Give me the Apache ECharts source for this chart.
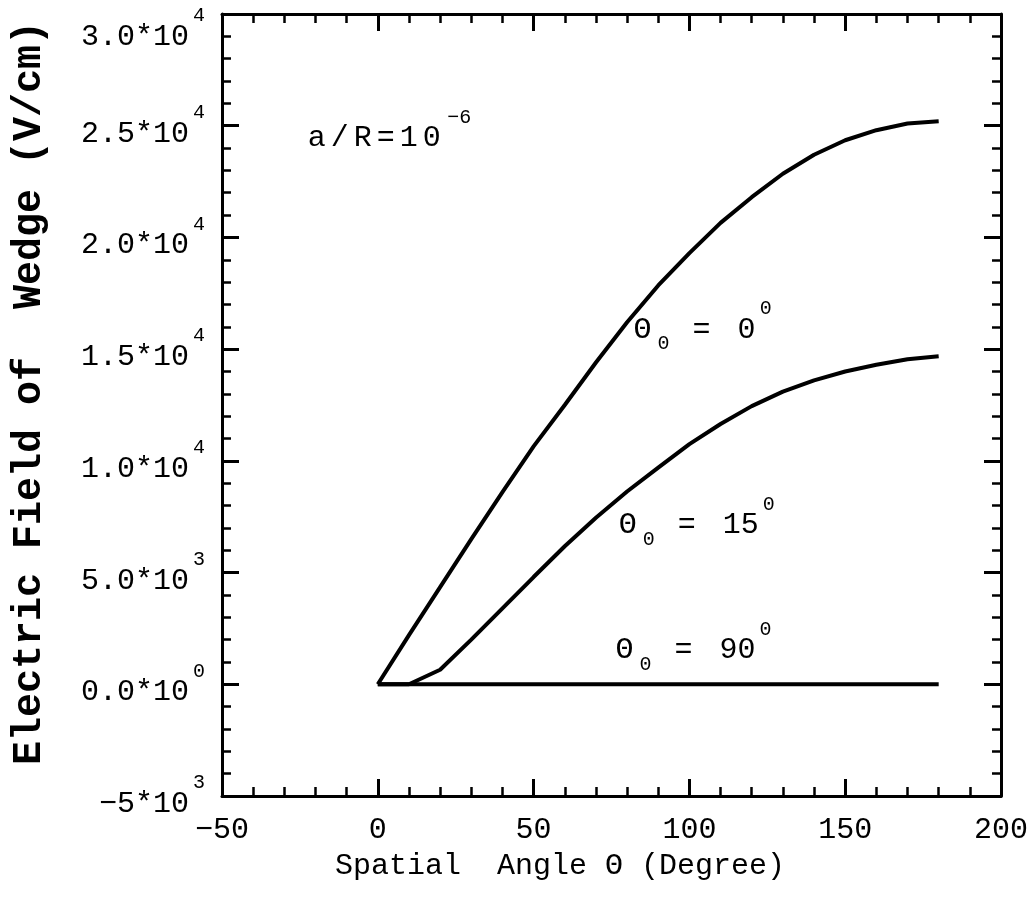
<!DOCTYPE html>
<html><head><meta charset="utf-8">
<script src="https://cdn.jsdelivr.net/npm/echarts@6/dist/echarts.min.js"></script>
<style>html,body{margin:0;padding:0;background:#fff}#c{width:1034px;height:908px}</style>
</head><body><div id="c"></div>
<script>
// ---- data ----
const angles   = [0, 10, 20, 30, 40, 50, 60, 70, 80, 90, 100, 110, 120, 130, 140, 150, 160, 170, 180];
const field0   = [0, 2200, 4350, 6500, 8600, 10650, 12500, 14400, 16200, 17850, 19300, 20650, 21800, 22850, 23700, 24350, 24800, 25100, 25200];
const field15  = [0, 0, 650, 2000, 3400, 4800, 6180, 7450, 8630, 9700, 10750, 11650, 12450, 13100, 13600, 14000, 14300, 14550, 14680];
const field90  = [0, 0, 0, 0, 0, 0, 0, 0, 0, 0, 0, 0, 0, 0, 0, 0, 0, 0, 0];
const xTickLabels = ['\u221250', '0', '50', '100', '150', '200'];
const yTickMain = ['\u22125*10', '0.0*10', '5.0*10', '1.0*10', '1.5*10', '2.0*10', '2.5*10', '3.0*10'];
const yTickExp  = ['3', '0', '3', '4', '4', '4', '4', '4'];
const curveLabels = [
  { num: '0',  at: [82.1, 15850] },
  { num: '15', at: [77.3, 7120] },
  { num: '90', at: [76.3, 1520] }
];
const ratioLabel = { chars: ['a', '/', 'R', '=', '1', '0'], exp: '\u22126', at: [-23.3, 24440] };
const xTitle = 'Spatial  Angle \u0398 (Degree)';
const yTitle = 'Electric Field of  Wedge (V/cm)';

const xMin = -50, xMax = 200, xStep = 50;
const yMin = -5000, yMax = 30000, yStep = 5000;

const FONT = '"Liberation Mono", "DejaVu Sans Mono", monospace';
const pairs = (ys) => angles.map((a, i) => [a, ys[i]]);

const richGreek = {
  t:   { fontFamily: FONT, fontSize: 30, lineHeight: 62, color: '#000' },
  th:  { fontFamily: FONT, fontSize: 30, lineHeight: 62, width: 24, color: '#000' },
  sub: { fontFamily: FONT, fontSize: 20, width: 35, verticalAlign: 'bottom', padding: [0, 0, 7, 0], color: '#000' },
  eq:  { fontFamily: FONT, fontSize: 30, lineHeight: 62, width: 45, color: '#000' },
  sup: { fontFamily: FONT, fontSize: 20, verticalAlign: 'top', padding: [0, 0, 0, 4], color: '#000' },
  c:   { fontFamily: FONT, fontSize: 30, lineHeight: 62, width: 23, align: 'center', color: '#000' }
};

function curveMark(lbl) {
  return {
    symbolSize: 0,
    itemStyle: { color: 'rgba(0,0,0,0)' },
    data: [{
      coord: lbl.at,
      label: {
        show: true, position: 'right', distance: 0,
        formatter: '{th|\u0398}{sub|0}{eq|=}{t|' + lbl.num + '}{sup|0}',
        rich: richGreek
      }
    }]
  };
}

const ratioMark = {
  coord: ratioLabel.at,
  label: {
    show: true, position: 'right', distance: 0,
    formatter: ratioLabel.chars.map(ch => '{c|' + ch + '}').join('') + '{sup|' + ratioLabel.exp + '}',
    rich: richGreek
  }
};

const axisLineStyle = { color: '#000', width: 3 };
const tickCommon = {
  axisTick: { show: true, inside: true, length: 17, lineStyle: { color: '#000', width: 3 } },
  minorTick: { show: true, splitNumber: 5, length: 9, lineStyle: { color: '#000', width: 2.5 } },
  splitLine: { show: false },
  minorSplitLine: { show: false }
};

const chart = echarts.init(document.getElementById('c'), null, { renderer: 'canvas' });
chart.setOption({
  animation: false,
  backgroundColor: '#fff',
  grid: { left: 222, right: 33, top: 14, bottom: 112, containLabel: false, outerBoundsMode: 'none' },
  xAxis: [
    Object.assign({
      type: 'value', position: 'bottom', min: xMin, max: xMax, interval: xStep,
      axisLine: { show: true, onZero: false, lineStyle: axisLineStyle },
      axisLabel: {
        show: true, margin: 19, color: '#000', fontFamily: FONT, fontSize: 30,
        formatter: (v) => xTickLabels[Math.round((v - xMin) / xStep)]
      }
    }, tickCommon),
    Object.assign({
      type: 'value', position: 'top', min: xMin, max: xMax, interval: xStep,
      axisLine: { show: true, onZero: false, lineStyle: axisLineStyle },
      axisLabel: { show: false }
    }, tickCommon)
  ],
  yAxis: [
    Object.assign({
      type: 'value', position: 'left', min: yMin, max: yMax, interval: yStep,
      axisLine: { show: true, onZero: false, lineStyle: axisLineStyle },
      axisLabel: {
        show: true, margin: 17, color: '#000', fontFamily: FONT, fontSize: 30,
        padding: [16, 0, 0, 0],
        formatter: (v) => {
          const i = Math.round((v - yMin) / yStep);
          const s = '{m|' + yTickMain[i] + '}{s|' + yTickExp[i] + '}';
          return i === yTickMain.length - 1 ? '\n' + s : s;
        },
        rich: {
          m: { fontFamily: FONT, fontSize: 30, lineHeight: 62, color: '#000' },
          s: { fontFamily: FONT, fontSize: 20, verticalAlign: 'top', padding: [0, 0, 0, 4], color: '#000' }
        }
      }
    }, tickCommon),
    Object.assign({
      type: 'value', position: 'right', min: yMin, max: yMax, interval: yStep,
      axisLine: { show: true, onZero: false, lineStyle: axisLineStyle },
      axisLabel: { show: false }
    }, tickCommon)
  ],
  series: [
    {
      name: 'theta0_0', type: 'line', xAxisIndex: 0, yAxisIndex: 0,
      data: pairs(field0), symbol: 'none', lineStyle: { color: '#000', width: 4 },
      markPoint: curveMark(curveLabels[0])
    },
    {
      name: 'theta0_15', type: 'line', xAxisIndex: 0, yAxisIndex: 0,
      data: pairs(field15), symbol: 'none', lineStyle: { color: '#000', width: 4 },
      markPoint: curveMark(curveLabels[1])
    },
    {
      name: 'theta0_90', type: 'line', xAxisIndex: 0, yAxisIndex: 0,
      data: pairs(field90), symbol: 'none', lineStyle: { color: '#000', width: 4 },
      markPoint: (function () { const m = curveMark(curveLabels[2]); m.data.push(ratioMark); return m; })()
    }
  ],
  graphic: [
    { type: 'text', left: 335, top: 851, style: { text: xTitle, font: '30px ' + FONT, fill: '#000' } },
    { type: 'text', x: 30, y: 393, rotation: Math.PI / 2,
      style: { text: yTitle, font: 'bold 40px ' + FONT, fill: '#000', align: 'center', verticalAlign: 'middle' } }
  ]
});
</script>
</body></html>
